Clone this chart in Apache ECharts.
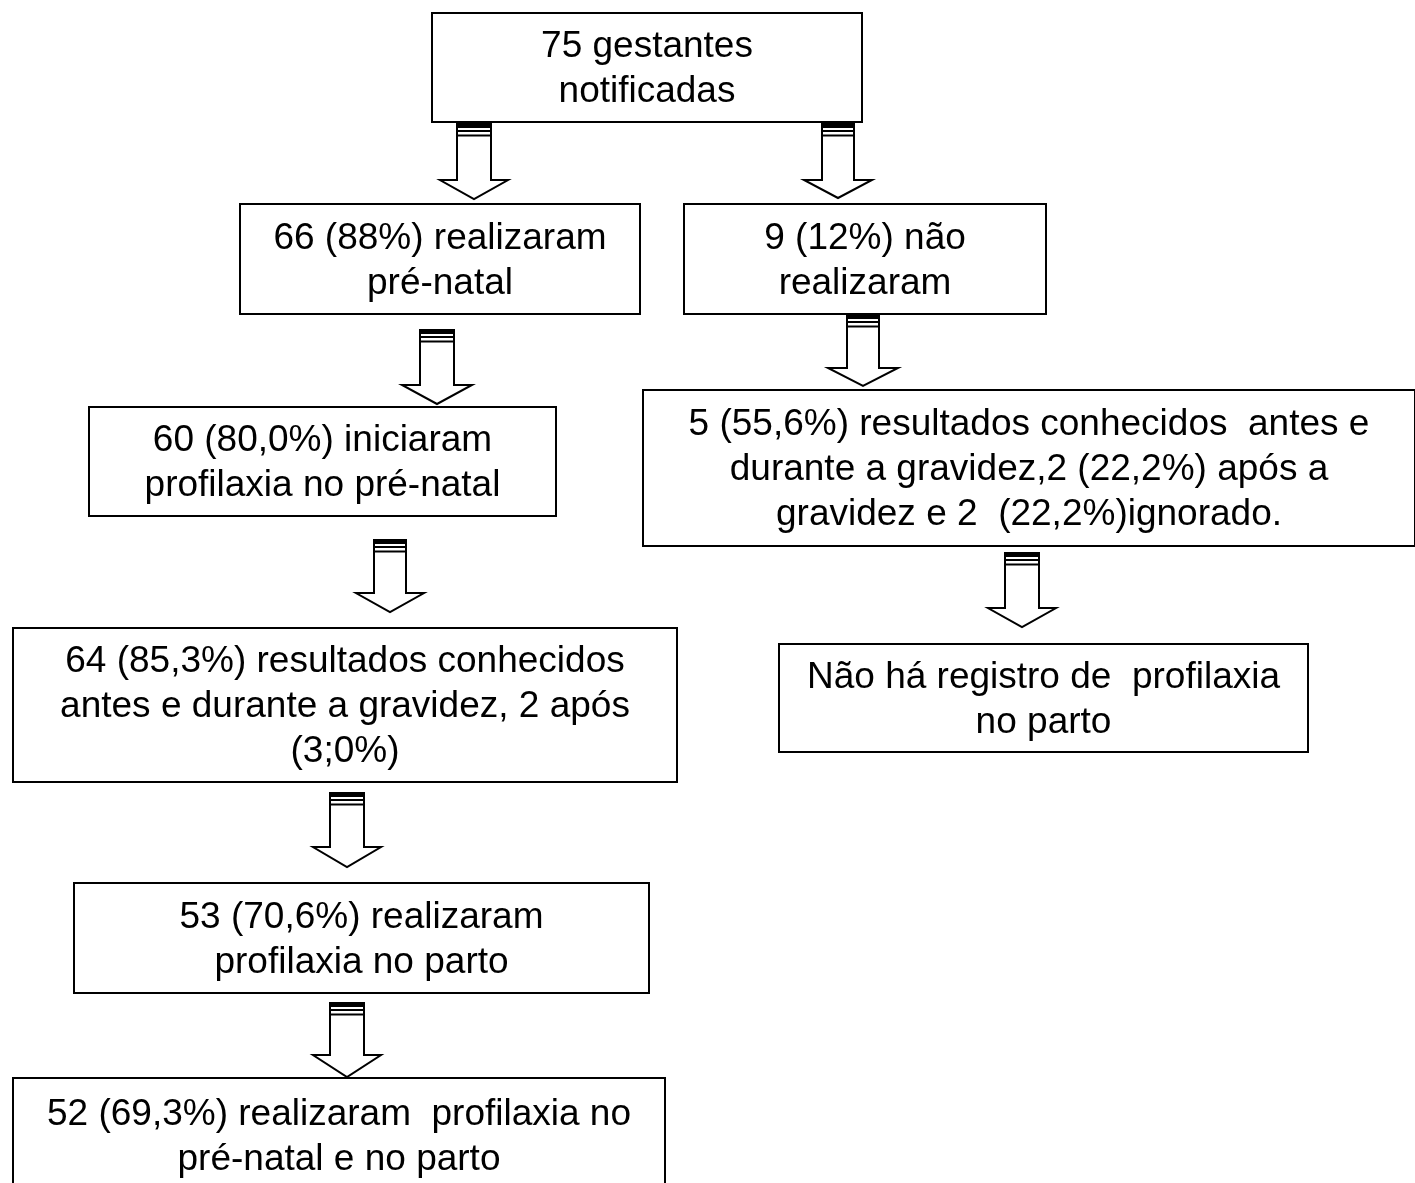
<!DOCTYPE html>
<html>
<head>
<meta charset="utf-8">
<title>Fluxograma gestantes</title>
<script src="https://cdn.jsdelivr.net/npm/echarts@6/dist/echarts.min.js"></script>
<style>
	html, body { margin: 0; padding: 0; background: #fff; }
	#box { width: 1415px; height: 1183px; }
</style>
</head>
<body>
<div id="box"></div>
<script>
// boxes of the flowchart (page units, y grows downward)
var boxLeft   = [432, 240, 684, 89, 643, 13, 779, 74, 13];
var boxTop    = [13, 204, 204, 407, 390, 628, 644, 883, 1078];
var boxRight  = [862, 640, 1046, 556, 1415, 677, 1308, 649, 665];
var boxBottom = [122, 314, 314, 516, 546, 782, 752, 993, 1192];
var boxText = [
	'75 gestantes\nnotificadas',
	'66 (88%) realizaram\npré-natal',
	'9 (12%) não\nrealizaram',
	'60 (80,0%) iniciaram\nprofilaxia no pré-natal',
	'5 (55,6%) resultados conhecidos  antes e\ndurante a gravidez,2 (22,2%) após a\ngravidez e 2  (22,2%)ignorado.',
	'64 (85,3%) resultados conhecidos\nantes e durante a gravidez, 2 após\n(3;0%)',
	'Não há registro de  profilaxia\nno parto',
	'53 (70,6%) realizaram\nprofilaxia no parto',
	'52 (69,3%) realizaram  profilaxia no\npré-natal e no parto'
];

// block arrows between boxes
var arrowX    = [474, 838, 437, 863, 390, 1022, 347, 347];
var arrowTop  = [124, 124, 330, 315, 540, 553, 793, 1003];
var arrowHead = [180, 180, 385, 368, 593, 608, 847, 1055];
var arrowTip  = [199, 198, 404, 386, 612, 627, 867, 1077];
var arrowShaft = [17, 16, 17, 16, 16, 17, 17, 17];
var arrowWing  = [34, 34, 35, 35, 34, 34, 34, 34];

var font = '"Liberation Sans", Arial, Helvetica, sans-serif';

var boxData = boxLeft.map(function(x, i) {
	return [x, boxTop[i], boxRight[i], boxBottom[i]];
});
var arrowData = arrowX.map(function(x, i) {
	return [x, arrowTop[i], arrowHead[i], arrowTip[i], arrowShaft[i], arrowWing[i]];
});

function renderBox(params, api) {
	var p0 = api.coord([api.value(0), api.value(1)]);
	var p1 = api.coord([api.value(2), api.value(3)]);
	return {
		type: 'group',
		children: [
			{
				type: 'rect',
				shape: { x: p0[0], y: p0[1], width: p1[0] - p0[0], height: p1[1] - p0[1] },
				style: { fill: '#fff', stroke: '#000', lineWidth: 2 }
			},
			{
				type: 'text',
				x: (p0[0] + p1[0]) / 2,
				y: (p0[1] + p1[1]) / 2 + 2,
				style: {
					text: boxText[params.dataIndex],
					font: '37px ' + font,
					lineHeight: 45,
					align: 'center',
					verticalAlign: 'middle',
					fill: '#000'
				}
			}
		]
	};
}

function renderArrow(params, api) {
	var cx = api.value(0), s = api.value(4), w = api.value(5);
	var top = api.value(1), head = api.value(2), tip = api.value(3);
	var pts = [
		[cx - s, top], [cx + s, top], [cx + s, head], [cx + w, head],
		[cx, tip], [cx - w, head], [cx - s, head]
	].map(function(p) { return api.coord(p); });
	var l = api.coord([cx - s, top]), r = api.coord([cx + s, top]);
	return {
		type: 'group',
		children: [
			{
				type: 'polygon',
				shape: { points: pts },
				style: { fill: '#fff', stroke: '#000', lineWidth: 2 }
			},
			{
				type: 'rect',
				shape: { x: l[0], y: l[1], width: r[0] - l[0], height: 4 },
				style: { fill: '#000' }
			},
			{
				type: 'line',
				shape: { x1: l[0], y1: l[1] + 7, x2: r[0], y2: l[1] + 7 },
				style: { stroke: '#000', lineWidth: 2 }
			},
			{
				type: 'line',
				shape: { x1: l[0], y1: l[1] + 11.5, x2: r[0], y2: l[1] + 11.5 },
				style: { stroke: '#000', lineWidth: 2 }
			}
		]
	};
}

var chart = echarts.init(document.getElementById('box'));

var option = {
	backgroundColor: '#fff',
	animation: false,
	grid: { left: 0, right: 0, top: 0, bottom: 0 },
	xAxis: { type: 'value', min: 0, max: 1415, show: false },
	yAxis: { type: 'value', min: 0, max: 1183, inverse: true, show: false },
	series: [
		{
			type: 'custom',
			name: 'setas',
			renderItem: renderArrow,
			encode: { x: 0, y: [1, 3] },
			data: arrowData,
			silent: true
		},
		{
			type: 'custom',
			name: 'caixas',
			renderItem: renderBox,
			encode: { x: [0, 2], y: [1, 3] },
			data: boxData,
			silent: true
		}
	]
};
chart.setOption(option);
</script>
</body>
</html>
